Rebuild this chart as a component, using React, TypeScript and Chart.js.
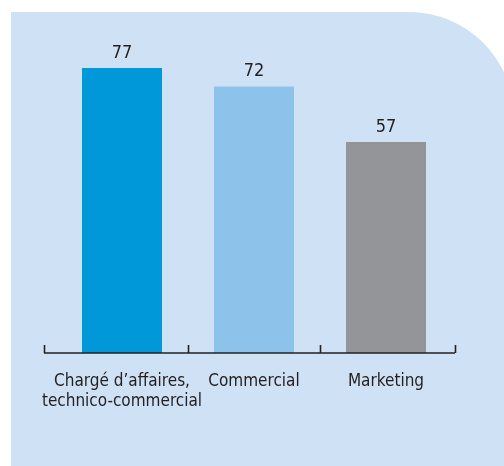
import React, { useEffect, useRef } from "react";
import { Chart, registerables } from "chart.js";

Chart.register(...registerables);

const categories: (string | string[])[] = [
  ["Chargé d\u2019affaires,", "technico-commercial"],
  "Commercial",
  "Marketing",
];
const values: number[] = [77, 72, 57];
const barColors: string[] = ["#0098D8", "#8DC3EA", "#939598"];

const FONT = "'DejaVu Sans Condensed', 'DejaVu Sans', sans-serif";
const TEXT = "#231F20";

const valueLabels = {
  id: "valueLabels",
  afterDatasetsDraw(chart: any) {
    const ctx = chart.ctx;
    const meta = chart.getDatasetMeta(0);
    ctx.save();
    ctx.font = `18px ${FONT}`;
    ctx.fillStyle = TEXT;
    ctx.textAlign = "center";
    ctx.textBaseline = "alphabetic";
    meta.data.forEach((el: any, i: number) => {
      ctx.fillText(String(values[i]), el.x, el.y - 10);
    });
    ctx.restore();
  },
};

const axisLine = {
  id: "axisLine",
  afterDatasetsDraw(chart: any) {
    const ctx = chart.ctx;
    const { left, right, bottom } = chart.chartArea;
    const step = (right - left) / categories.length;
    const bounds: number[] = [];
    for (let i = 0; i <= categories.length; i++) bounds.push(left + i * step);
    bounds[0] = left - 12;
    bounds[bounds.length - 1] = right + 3;
    ctx.save();
    ctx.strokeStyle = "#222222";
    ctx.lineWidth = 1.6;
    ctx.beginPath();
    ctx.moveTo(bounds[0], bottom);
    ctx.lineTo(bounds[bounds.length - 1], bottom);
    bounds.forEach((b) => {
      const bx = Math.round(b) + 0.5;
      ctx.moveTo(bx, bottom);
      ctx.lineTo(bx, bottom - 8);
    });
    ctx.stroke();
    ctx.restore();
  },
};

export default function App() {
  const ref = useRef<HTMLCanvasElement>(null);
  useEffect(() => {
    if (!ref.current) return;
    const chart = new Chart(ref.current, {
      type: "bar",
      data: {
        labels: categories,
        datasets: [
          {
            data: values,
            backgroundColor: barColors,
            borderWidth: 0,
            barPercentage: 0.606,
            categoryPercentage: 1,
          },
        ],
      },
      options: {
        animation: false,
        responsive: false,
        maintainAspectRatio: false,
        layout: { padding: { left: 56, right: 52, top: 42, bottom: 0 } },
        plugins: {
          legend: { display: false },
          tooltip: { enabled: false },
          title: { display: false },
        },
        scales: {
          y: {
            display: false,
            min: 0,
            max: 84,
          },
          x: {
            grid: { display: false, drawTicks: false, tickLength: 0 },
            border: { display: false },
            ticks: {
              color: TEXT,
              padding: 18,
              maxRotation: 0,
              autoSkip: false,
              font: { family: FONT, size: 17, lineHeight: 1.2 },
            },
            afterFit: (scale: any) => {
              scale.height = 113;
            },
          },
        },
      },
      plugins: [valueLabels, axisLine],
    });
    return () => chart.destroy();
  }, []);

  return (
    <div
      style={{
        position: "fixed",
        left: 0,
        top: 0,
        width: 504,
        height: 466,
        background: "#FFFFFF",
        overflow: "hidden",
      }}
    >
      <div
        style={{
          position: "absolute",
          left: 11,
          top: 12,
          width: 503,
          height: 460,
          background: "#CFE1F4",
          borderTopRightRadius: 105,
        }}
      />
      <canvas
        ref={ref}
        width={504}
        height={466}
        style={{ position: "absolute", left: 0, top: 0, width: 504, height: 466 }}
      />
    </div>
  );
}
